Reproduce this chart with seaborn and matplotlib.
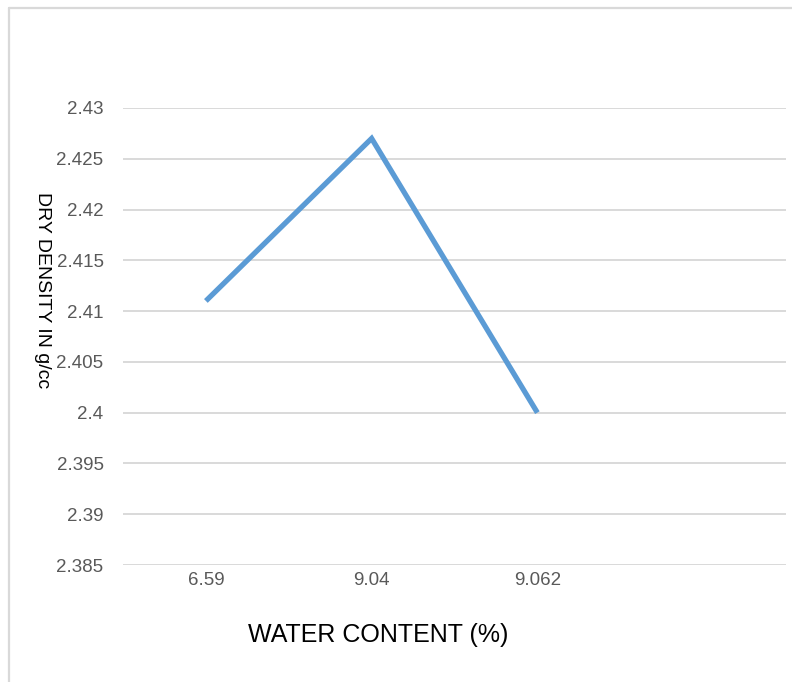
import matplotlib
matplotlib.use("Agg")
import matplotlib.pyplot as plt
from matplotlib.lines import Line2D
import seaborn as sns
import pandas as pd

# Water content categories and measured dry density
water_content = ["6.59", "9.04", "9.062"]
dry_density = [2.411, 2.427, 2.400]
y_ticks = [2.385, 2.39, 2.395, 2.4, 2.405, 2.41, 2.415, 2.42, 2.425, 2.43]
y_tick_labels = ["2.385", "2.39", "2.395", "2.4", "2.405", "2.41", "2.415", "2.42", "2.425", "2.43"]

sns.set_theme(style="white")
plt.rcParams["font.family"] = ["Liberation Sans", "DejaVu Sans"]

df = pd.DataFrame({"water": water_content, "density": dry_density})

fig = plt.figure(figsize=(7.92, 6.82), dpi=100)
ax = fig.add_axes([123 / 792, 1 - 565 / 682, 663 / 792, 457 / 682])

sns.lineplot(data=df, x="water", y="density", ax=ax, color="#5B9BD5",
             linewidth=3.8, sort=False)
for ln in ax.lines:
    ln.set_solid_capstyle("butt")
    ln.set_solid_joinstyle("miter")

ax.set_ylim(2.385, 2.43)
ax.set_yticks(y_ticks)
ax.set_yticklabels(y_tick_labels)
ax.set_xlim(-0.5, 3.5)
ax.set_xticks(range(len(water_content) + 1))
ax.set_xticklabels(water_content + [""])

ax.yaxis.grid(True, color="#D9D9D9", linewidth=1.4)
ax.xaxis.grid(False)
for s in ax.spines.values():
    s.set_visible(False)
ax.tick_params(axis="both", length=0, labelsize=13.5, colors="#595959")
ax.tick_params(axis="y", pad=14)
ax.tick_params(axis="x", pad=5)

ax.set_xlabel("WATER CONTENT (%)", fontsize=18, color="#000000")
ax.xaxis.set_label_coords(0.385, -0.128)
ax.set_ylabel("DRY DENSITY IN g/cc", fontsize=14, color="#000000",
              rotation=270, va="center", ha="center")
ax.yaxis.set_label_coords(-0.122, 0.602)

# Chart-area frame
fig.add_artist(Line2D([9 / 792, 9 / 792], [0, 1 - 8 / 682], transform=fig.transFigure,
                      color="#D9D9D9", linewidth=1.6))
fig.add_artist(Line2D([9 / 792, 1], [1 - 8 / 682, 1 - 8 / 682], transform=fig.transFigure,
                      color="#D9D9D9", linewidth=1.6))

fig.savefig("out.png", dpi=100)
